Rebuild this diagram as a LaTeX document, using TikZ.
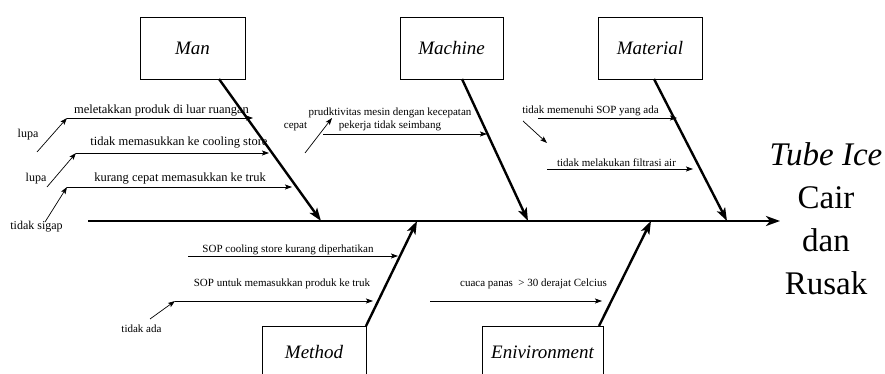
\documentclass[tikz,border=0pt]{standalone}
\usepackage{fontspec}
\setmainfont{Liberation Serif}
\usetikzlibrary{arrows.meta}
\tikzset{l/.style={font=\fontsize{12.5}{12.5}\selectfont, inner sep=0pt}}
\tikzset{m/.style={font=\fontsize{11}{13}\selectfont, inner sep=0pt}}
\tikzset{cat/.style={draw, line width=0.8pt, minimum height=62pt, font=\fontsize{19}{19}\selectfont\itshape}}
\tikzset{bone/.style={line width=2.4pt, -{Stealth[length=13pt,width=9pt,inset=3pt]}}}
\tikzset{cause/.style={line width=0.7pt, -{Stealth[length=7pt,width=5pt,inset=1.5pt]}}}

\begin{document}
\begin{tikzpicture}[x=1pt, y=-1pt]
  \useasboundingbox (0,0) rectangle (885,374);
  \clip (0,0) rectangle (885,374);
  % spine and effect
  \coordinate (tail) at (88,221);
  \coordinate (head) at (780,221);
  \draw[line width=2.8pt, -{Stealth[length=14pt,width=10pt,inset=4pt]}] (tail) -- (head);
  \node (effect) at (826,219) [align=center, inner sep=0pt, font=\fontsize{33}{43}\selectfont]
    {\textit{Tube Ice}\\Cair\\dan\\Rusak};
  % categories
  \node (man) at (192.5,48) [cat, minimum width=105pt] {Man};
  \node (machine) at (451.5,48) [cat, minimum width=103pt] {Machine};
  \node (material) at (650,48) [cat, minimum width=104pt] {Material};
  \node (method) at (314,352) [cat, minimum width=104pt, minimum height=52pt] {Method};
  \node (envir) at (542.5,352) [cat, minimum width=121pt, minimum height=52pt] {Enivironment};
  \coordinate (manA) at (219,79);
  \coordinate (manB) at (321,221);
  \coordinate (machineA) at (462,79);
  \coordinate (machineB) at (528,221);
  \coordinate (materialA) at (654,79);
  \coordinate (materialB) at (727,221);
  \coordinate (methodA) at (366,326);
  \coordinate (methodB) at (417,221);
  \coordinate (envirA) at (599,326);
  \coordinate (envirB) at (651,221);
  \draw[bone] (manA) -- (manB);
  \draw[bone] (machineA) -- (machineB);
  \draw[bone] (materialA) -- (materialB);
  \draw[bone] (methodA) -- (methodB);
  \draw[bone] (envirA) -- (envirB);
  % man
  \node (manT1) at (161.5,111) [l] {meletakkan produk di luar ruangan};
  \coordinate (manS1) at (67,118);
  \coordinate (manE1) at (253,118);
  \draw[cause] (manS1) -- (manE1);
  \node (lupaA) at (28,135) [m, font=\fontsize{12}{12}\selectfont] {lupa};
  \coordinate (lupaAS) at (37,152);
  \draw[cause] (lupaAS) -- (manS1);
  \node (manT2) at (179,143) [l] {tidak memasukkan ke cooling store};
  \coordinate (manS2) at (76,153);
  \coordinate (manE2) at (269,153);
  \draw[cause] (manS2) -- (manE2);
  \node (lupaB) at (36,179) [m, font=\fontsize{12}{12}\selectfont] {lupa};
  \coordinate (lupaBS) at (47,187);
  \draw[cause] (lupaBS) -- (manS2);
  \node (manT3) at (180,179) [l] {kurang cepat memasukkan ke truk};
  \coordinate (manS3) at (67,187);
  \coordinate (manE3) at (292,187);
  \draw[cause] (manS3) -- (manE3);
  \node (sigap) at (36.5,227) [m, font=\fontsize{12}{12}\selectfont] {tidak sigap};
  \coordinate (sigapS) at (45,222);
  \draw[cause] (sigapS) -- (manS3);
  % machine
  \node (cepat) at (295.5,127) [m] {cepat};
  \node (machT1) at (390,119.5) [m, align=center] {prudktivitas mesin dengan kecepatan\\pekerja tidak seimbang};
  \coordinate (cepatS) at (305,153);
  \coordinate (cepatE) at (332,118);
  \draw[cause] (cepatS) -- (cepatE);
  \coordinate (machS1) at (323,134);
  \coordinate (machE1) at (487,134);
  \draw[cause] (machS1) -- (machE1);
  % material
  \node (matT1) at (590.5,111) [m] {tidak memenuhi SOP yang ada};
  \coordinate (matS1) at (538,118);
  \coordinate (matE1) at (677,118);
  \draw[cause] (matS1) -- (matE1);
  \coordinate (matS0) at (523,121);
  \coordinate (matE0) at (547,143);
  \draw[cause] (matS0) -- (matE0);
  \node (matT2) at (616.5,163) [m] {tidak melakukan filtrasi air};
  \coordinate (matS2) at (547,169);
  \coordinate (matE2) at (693,169);
  \draw[cause] (matS2) -- (matE2);
  % method
  \node (methT1) at (288,250) [m] {SOP cooling store kurang diperhatikan};
  \coordinate (methS1) at (188,256);
  \coordinate (methE1) at (398,256);
  \draw[cause] (methS1) -- (methE1);
  \node (methT2) at (282,284) [m] {SOP untuk memasukkan produk ke truk};
  \coordinate (methS2) at (175,301);
  \coordinate (methE2) at (373,301);
  \draw[cause] (methS2) -- (methE2);
  \node (tidakada) at (141.5,329) [m] {tidak ada};
  \coordinate (adaS) at (150,319);
  \draw[cause] (adaS) -- (methS2);
  % environment
  \node (envT1) at (533.5,284) [m] {cuaca panas~ > 30 derajat Celcius};
  \coordinate (envS1) at (430,301);
  \coordinate (envE1) at (602,301);
  \draw[cause] (envS1) -- (envE1);
\end{tikzpicture}
\end{document}
